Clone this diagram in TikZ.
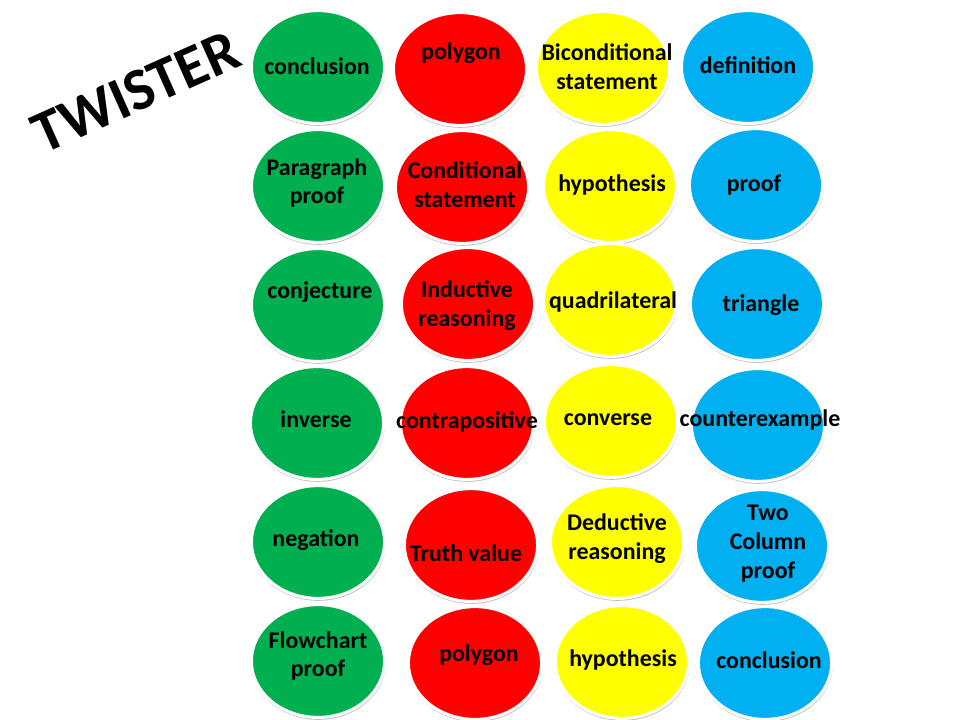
\documentclass[tikz,border=0pt]{standalone}
\usepackage{fontspec}
\setmainfont{Carlito}
\usetikzlibrary{shapes.geometric,shadows}
\definecolor{tgreen}{HTML}{00B050}
\definecolor{tred}{HTML}{FF0000}
\definecolor{tyellow}{HTML}{FFFF00}
\definecolor{tblue}{HTML}{00B0F0}
\tikzset{
  blob/.style={ellipse, draw=white, line width=2.2pt, minimum width=3.33cm, minimum height=2.82cm, inner sep=0pt,
    drop shadow={shadow xshift=0.3pt, shadow yshift=-1.2pt, shadow scale=1.012, opacity=0.25, fill=black}},
  word/.style={font=\fontsize{17}{20.6}\selectfont\bfseries, align=center, inner sep=0pt, text=black}
}
\begin{document}
\begin{tikzpicture}[x=0.025cm,y=-0.025cm]
\useasboundingbox (0,0) rectangle (960,720);
\fill[white] (0,0) rectangle (960,720);
% TWISTER title
\node[font=\fontsize{42.5}{45}\selectfont\bfseries, rotate=24, inner sep=0pt] (title) at (136,92) {TWISTER};
% row 1
\node[blob, fill=tgreen]  (g1) at (318,67) {};
\node[blob, fill=tred]    (r1) at (460,69) {};
\node[blob, fill=tyellow] (y1) at (603,68) {};
\node[blob, fill=tblue]   (b1) at (748,67) {};
% row 2
\node[blob, fill=tgreen]  (g2) at (318,186) {};
\node[blob, fill=tred]    (r2) at (462,187) {};
\node[blob, fill=tyellow] (y2) at (610,186) {};
\node[blob, fill=tblue]   (b2) at (756,185) {};
% row 3
\node[blob, fill=tgreen]  (g3) at (318,305) {};
\node[blob, fill=tred]    (r3) at (468,304) {};
\node[blob, fill=tyellow] (y3) at (610,300) {};
\node[blob, fill=tblue]   (b3) at (757,304) {};
% row 4
\node[blob, fill=tgreen]  (g4) at (317,423) {};
\node[blob, fill=tred]    (r4) at (467,423) {};
\node[blob, fill=tyellow] (y4) at (611,421) {};
\node[blob, fill=tblue]   (b4) at (758,425) {};
% row 5
\node[blob, fill=tgreen]  (g5) at (318,542) {};
\node[blob, fill=tred]    (r5) at (471,545) {};
\node[blob, fill=tyellow] (y5) at (617,542) {};
\node[blob, fill=tblue]   (b5) at (762,546) {};
% row 6
\node[blob, fill=tgreen]  (g6) at (318,661) {};
\node[blob, fill=tred]    (r6) at (475,663) {};
\node[blob, fill=tyellow] (y6) at (622,662) {};
\node[blob, fill=tblue]   (b6) at (765,663) {};
% texts
\node[word] (tg1) at (317,66) {conclusion};
\node[word] (tr1) at (461,53) {polygon};
\node[word] (ty1) at (607,67) {Biconditional\\statement};
\node[word] (tb1) at (748,65) {definition};
\node[word] (tg2) at (317,183) {Paragraph\\proof};
\node[word] (tr2) at (465,185) {Conditional\\statement};
\node[word] (ty2) at (612,185) {hypothesis};
\node[word] (tb2) at (754,185) {proof};
\node[word] (tg3) at (320,292) {conjecture};
\node[word] (tr3) at (467,306) {Inductive\\reasoning};
\node[word] (ty3) at (613,302) {quadrilateral};
\node[word] (tb3) at (761,305) {triangle};
\node[word] (tg4) at (316,419) {inverse};
\node[word] (tr4) at (467,422) {contrapositive};
\node[word] (ty4) at (608,420) {converse};
\node[word] (tb4) at (760,420) {counterexample};
\node[word] (tg5) at (316,540) {negation};
\node[word] (tr5) at (466,553) {Truth value};
\node[word] (ty5) at (617,539) {Deductive\\reasoning};
\node[word] (tb5) at (768,544) {Two\\Column\\proof};
\node[word] (tg6) at (318,656) {Flowchart\\proof};
\node[word] (tr6) at (479,655) {polygon};
\node[word] (ty6) at (623,660) {hypothesis};
\node[word] (tb6) at (769,660) {conclusion};
\end{tikzpicture}
\end{document}
